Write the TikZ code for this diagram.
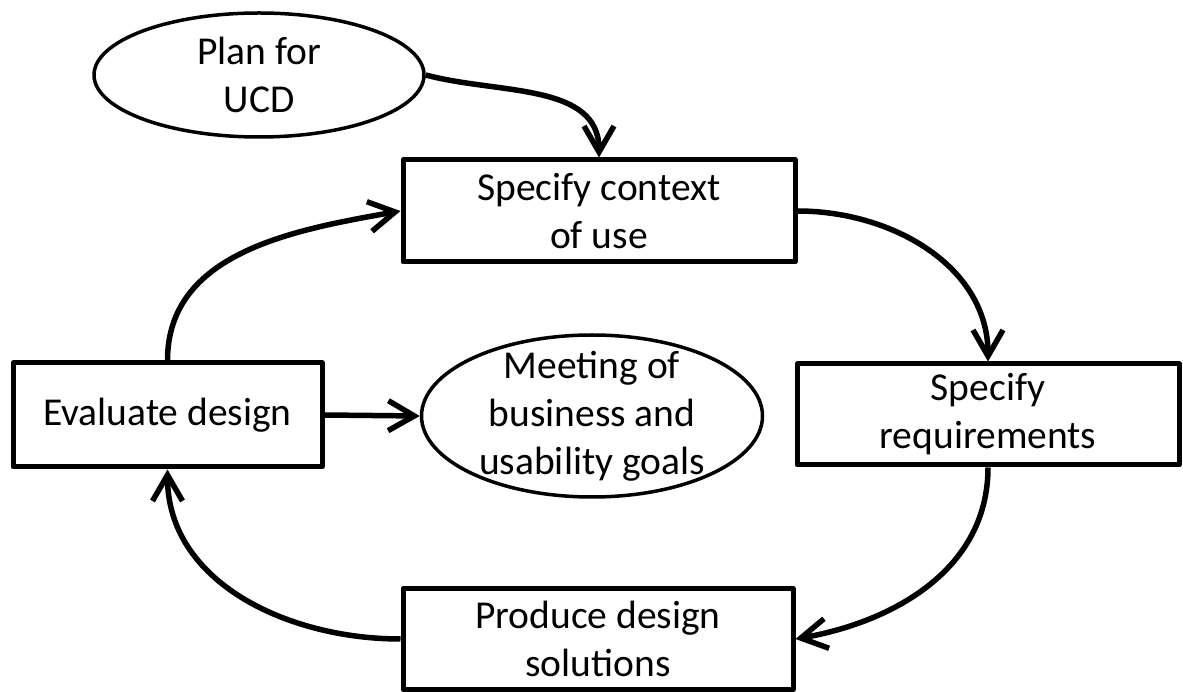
\documentclass[tikz,border=0pt]{standalone}
\usepackage{fontspec}
\setmainfont{Carlito}
\usetikzlibrary{shapes.geometric,arrows.meta}
\tikzset{
  stage/.style={draw, line width=5pt, minimum height=102pt, inner sep=0pt, align=center},
  goal/.style={draw, ellipse, line width=3.5pt, inner sep=0pt, align=center},
  flow/.style={line width=5.5pt, -{Straight Barb[length=26pt,width=30pt]}}
}

\begin{document}
\begin{tikzpicture}[x=1pt, y=1pt, line join=round, font=\fontsize{39.5}{48}\selectfont]
\useasboundingbox (0,0) rectangle (1183,691);

% the cycle
\node[stage, minimum width=392pt] (ctx) at (599,480) {Specify context\\of use};
\node[stage, minimum width=382pt, minimum height=101pt] (req) at (988,276.5) {Specify\\requirements};
\node[stage, minimum width=390pt, minimum height=101pt] (prod) at (598,52) {Produce design\\solutions};
\node[stage, minimum width=309pt, minimum height=104pt] (eval) at (167.5,276) {Evaluate design};

\node[goal, minimum width=330pt, minimum height=124pt] (plan) at (259,616) {Plan for\\UCD};
\node[goal, minimum width=341pt, minimum height=162pt,
      label={[align=center]center:Meeting of\\business and\\usability goals}] (meet) at (592,275) {};

\draw[flow] (plan.east) to[out=-15, in=90] (ctx.north);
\draw[flow] (ctx.east) to[out=0, in=90] (req.north);
\draw[flow] (req.south) to[out=-90, in=10] (prod.east);
\draw[flow] (prod.west) to[out=180, in=-90] (eval.south);
\draw[flow] (eval.north) to[out=90, in=190] (ctx.west);
\draw[flow] (eval.east) -- (meet.west);
\end{tikzpicture}
\end{document}
